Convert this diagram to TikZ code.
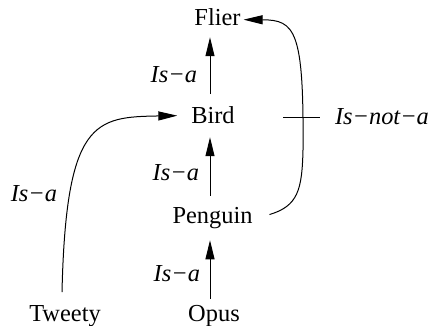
\documentclass[tikz,border=0pt]{standalone}
\usepackage{fontspec}
\setmainfont{Liberation Serif}
\usetikzlibrary{arrows.meta}
\tikzset{
  concept/.style={inner sep=0pt, outer sep=0pt, anchor=base, font=\fontsize{12.2}{14}\selectfont},
  rel/.style={inner sep=0pt, outer sep=0pt, font=\fontsize{12.2}{14}\selectfont\itshape},
  arr/.style={-{Triangle[length=9.5pt,width=4.5pt]}, line width=0.5pt},
  link/.style={line width=0.5pt}
}
\begin{document}
\begin{tikzpicture}[x=0.5pt,y=-0.5pt]
\useasboundingbox (0,0) rectangle (433,326);
% concepts
\node[concept] (flier) at (217.5,26) {Flier};
\node[concept] (bird) at (213,124) {Bird};
\node[concept] (penguin) at (212.5,223) {Penguin};
\node[concept] (opus) at (214,321) {Opus};
\node[concept] (tweety) at (65,321) {Tweety};
\coordinate (axis) at (210,0);
% is-a arrows
\draw[arr, shorten <=6.5pt, shorten >=5.5pt] (axis |- bird.north) -- (axis |- flier.south);
\draw[arr, shorten <=5.5pt, shorten >=6.5pt] (axis |- penguin.north) -- (axis |- bird.south);
\draw[arr, shorten <=3pt, shorten >=6pt] (axis |- opus.north) -- (axis |- penguin.south);
% labels
\node[rel, anchor=base east] (l1) at (197,83) {Is−a};
\node[rel, anchor=base east] (l2) at (199,180) {Is−a};
\node[rel, anchor=base east] (l3) at (200,281) {Is−a};
\node[rel, anchor=base] (l4) at (34,201) {Is−a};
% Tweety -> Bird
\draw[arr] ([xshift=-1.5pt,yshift=6.5pt]tweety.north) .. controls (66,120) and (95,117) .. ([xshift=-7pt]bird.west);
% Penguin -> Flier (is-not-a)
\coordinate (bend) at (303,150);
\draw[arr] ([xshift=8.5pt,yshift=1.5pt]penguin.east) .. controls (298,206) and (302,190) .. (bend)
  .. controls (304,30) and (295,20) .. ([xshift=1.5pt,yshift=-1pt]flier.east);
% tick and label
\node[rel, anchor=base west] (isnot) at (335,125) {Is−not−a};
\coordinate (tk) at (283,117);
\draw[link, shorten >=7.5pt] (tk) -- (tk -| isnot.west);
\end{tikzpicture}
\end{document}
